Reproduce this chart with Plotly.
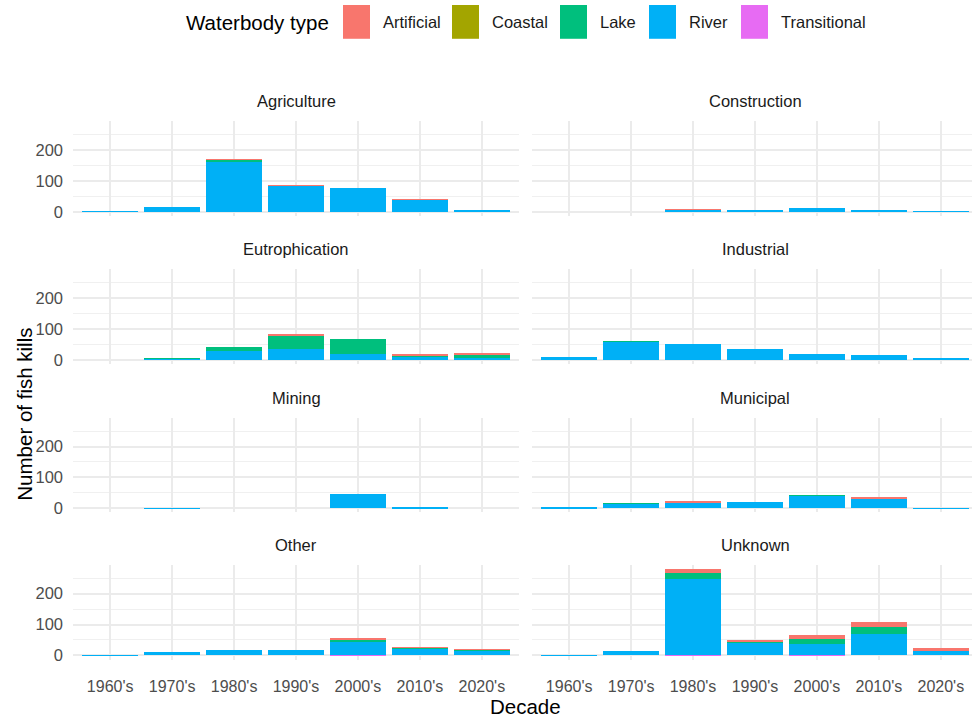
import plotly.graph_objects as go

# ---------------- data ----------------
decades = ["1960's", "1970's", "1980's", "1990's", "2000's", "2010's", "2020's"]
waterbody_types = ["Artificial", "Coastal", "Lake", "River", "Transitional"]
type_colors = ["#F8766D", "#A3A500", "#00BF7D", "#00B0F6", "#E76BF3"]

agriculture = {
    "Artificial":   [0, 0, 2, 1, 0, 1, 0],
    "Coastal":      [0, 0, 0, 0, 0, 0, 0],
    "Lake":         [0, 0, 6, 0, 0, 0, 0],
    "River":        [2, 15, 161, 84, 77, 38, 6],
    "Transitional": [0, 0, 1, 0, 0, 0, 0],
}
construction = {
    "Artificial":   [0, 0, 2, 0, 0, 0, 0],
    "Coastal":      [0, 0, 0, 0, 0, 0, 0],
    "Lake":         [0, 0, 0, 0, 0, 0, 0],
    "River":        [0, 0, 6, 3, 12, 3, 2],
    "Transitional": [0, 0, 0, 0, 0, 0, 0],
}
eutrophication = {
    "Artificial":   [0, 0, 0, 2, 0, 2, 1],
    "Coastal":      [0, 0, 0, 0, 0, 0, 0],
    "Lake":         [0, 2, 13, 44, 46, 4, 10],
    "River":        [0, 3, 28, 35, 20, 10, 8],
    "Transitional": [0, 0, 0, 0, 1, 0, 0],
}
industrial = {
    "Artificial":   [0, 0, 0, 0, 0, 0, 0],
    "Coastal":      [0, 0, 0, 0, 0, 0, 0],
    "Lake":         [0, 1, 0, 0, 0, 0, 0],
    "River":        [11, 59, 53, 36, 20, 16, 3],
    "Transitional": [0, 0, 0, 0, 0, 0, 0],
}
mining = {
    "Artificial":   [0, 0, 0, 0, 0, 0, 0],
    "Coastal":      [0, 0, 0, 0, 0, 0, 0],
    "Lake":         [0, 0, 0, 0, 0, 0, 0],
    "River":        [0, 1, 0, 0, 45, 4, 0],
    "Transitional": [0, 0, 0, 0, 0, 0, 0],
}
municipal = {
    "Artificial":   [0, 0, 1, 0, 0, 1, 0],
    "Coastal":      [0, 0, 0, 0, 0, 0, 0],
    "Lake":         [0, 1, 0, 0, 1, 0, 0],
    "River":        [4, 17, 21, 20, 41, 34, 2],
    "Transitional": [0, 0, 0, 0, 0, 0, 0],
}
other = {
    "Artificial":   [0, 0, 0, 0, 2, 1, 1],
    "Coastal":      [0, 0, 0, 0, 0, 0, 1],
    "Lake":         [0, 0, 0, 0, 5, 2, 1],
    "River":        [2, 12, 16, 18, 45, 24, 18],
    "Transitional": [0, 0, 0, 0, 2, 0, 0],
}
unknown = {
    "Artificial":   [0, 0, 12, 2, 13, 17, 5],
    "Coastal":      [0, 0, 0, 0, 0, 0, 0],
    "Lake":         [0, 0, 19, 6, 17, 22, 0],
    "River":        [2, 13, 246, 41, 35, 69, 18],
    "Transitional": [0, 0, 2, 0, 2, 0, 0],
}

facet_names = ["Agriculture", "Construction", "Eutrophication", "Industrial",
               "Mining", "Municipal", "Other", "Unknown"]
facet_data = [agriculture, construction, eutrophication, industrial,
              mining, municipal, other, unknown]

y_ticks = [0, 100, 200]
y_minor = [50, 150, 250]

# ---------------- layout helpers (pixels -> paper) ----------------
W, H = 972, 722
FONT = "Liberation Sans, Arial, Helvetica, sans-serif"


def px(x):
    return x / W


def py(y):
    return 1 - y / H


y_lo, y_hi = -14, 294
px_per_unit = 0.31
row_zero = [213, 362, 511, 659]
col_domain = [(73, 519), (532, 972)]
col_range = [[-0.6, 6.6], [-0.6, 6.6 - 6 / 62]]

fig = go.Figure()
annotations = []
shapes = []

stack_order = ["Transitional", "River", "Lake", "Coastal", "Artificial"]
color_of = dict(zip(waterbody_types, type_colors))

for i, (fname, fdata) in enumerate(zip(facet_names, facet_data)):
    n = i + 1
    r, c = divmod(i, 2)
    xa = "x" if n == 1 else f"x{n}"
    ya = "y" if n == 1 else f"y{n}"
    for t in stack_order:
        fig.add_trace(go.Bar(
            x=decades, y=fdata[t], name=t, xaxis=xa, yaxis=ya,
            marker=dict(color=color_of[t], line=dict(width=0)),
            width=0.9, showlegend=False,
        ))
    bottom = row_zero[r] - y_lo * px_per_unit
    top = row_zero[r] - y_hi * px_per_unit
    x0, x1 = col_domain[c]
    key = "" if n == 1 else str(n)
    fig.update_layout(**{
        f"xaxis{key}": dict(
            domain=[px(x0), px(x1)], anchor=ya, type="category",
            categoryorder="array", categoryarray=decades,
            range=col_range[c], showgrid=True, gridcolor="#EBEBEB", gridwidth=1.5,
            zeroline=False, showline=False, ticks="",
            showticklabels=(r == 3), ticklabelstandoff=15,
            tickfont=dict(family=FONT, size=16, color="#4D4D4D"),
            fixedrange=True,
        ),
        f"yaxis{key}": dict(
            domain=[py(bottom), py(top)], anchor=xa,
            range=[y_lo, y_hi], tickvals=y_ticks, showgrid=True,
            gridcolor="#EBEBEB", gridwidth=1.5,
            minor=dict(tickvals=y_minor, showgrid=True, gridcolor="#F0F0F0", gridwidth=1),
            zeroline=False, showline=False, ticks="",
            showticklabels=(c == 0), ticklabelstandoff=9,
            tickfont=dict(family=FONT, size=16.5, color="#4D4D4D"),
            fixedrange=True,
        ),
    })
    annotations.append(dict(
        text=fname, x=px((x0 + (x0 + 446)) / 2), y=py(top - 20),
        xref="paper", yref="paper", showarrow=False,
        xanchor="center", yanchor="middle",
        font=dict(family=FONT, size=16.5, color="#1A1A1A"),
    ))

# axis titles
annotations.append(dict(
    text="Decade", x=px(525), y=py(710), xref="paper", yref="paper",
    showarrow=False, xanchor="center", yanchor="middle",
    font=dict(family=FONT, size=20.5, color="#000000"),
))
annotations.append(dict(
    text="Number of fish kills", x=px(25), y=py(417), xref="paper", yref="paper",
    showarrow=False, xanchor="center", yanchor="middle", textangle=-90,
    font=dict(family=FONT, size=20.5, color="#000000"),
))

# legend (drawn manually to mimic ggplot key boxes)
annotations.append(dict(
    text="Waterbody type", x=px(331), y=py(23), xref="paper", yref="paper",
    showarrow=False, xanchor="right", yanchor="middle",
    font=dict(family=FONT, size=20.5, color="#000000"),
))
key_left = [343, 452, 560, 649, 741]
for t, col, kx in zip(waterbody_types, type_colors, key_left):
    shapes.append(dict(
        type="rect", xref="paper", yref="paper",
        x0=px(kx), x1=px(kx + 27), y0=py(39), y1=py(5),
        fillcolor=col, line=dict(width=0),
    ))
    annotations.append(dict(
        text=t, x=px(kx + 38), y=py(22), xref="paper", yref="paper",
        showarrow=False, xanchor="left", yanchor="middle",
        font=dict(family=FONT, size=16.5, color="#1A1A1A"),
    ))

fig.update_layout(
    width=W, height=H, barmode="stack", bargap=0.1,
    margin=dict(l=0, r=0, t=0, b=0),
    paper_bgcolor="white", plot_bgcolor="white",
    annotations=annotations, shapes=shapes,
    showlegend=False, hovermode=False,
)

fig.write_html(
    "out.html",
    config={"displayModeBar": False},
    post_script="document.body.style.margin='0';document.body.style.overflow='hidden';",
)
